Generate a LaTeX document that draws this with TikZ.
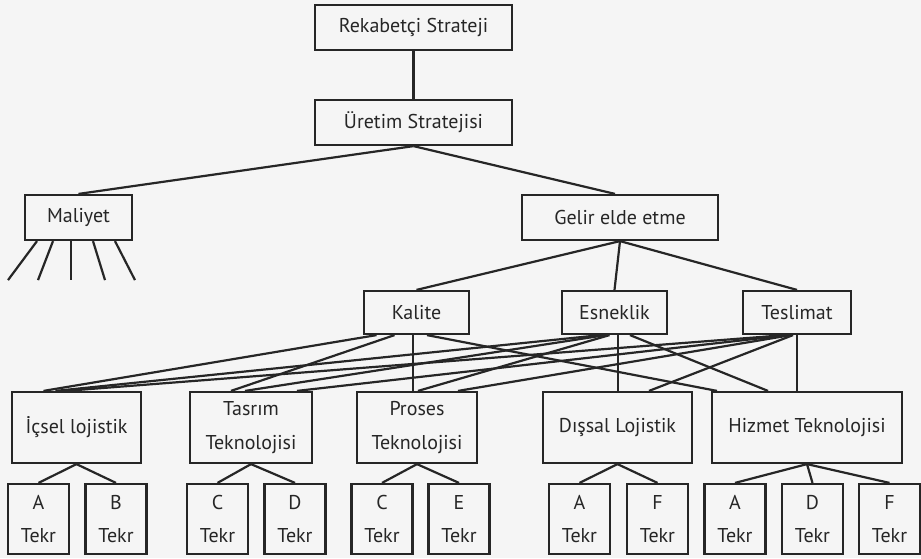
\documentclass[tikz,border=0pt]{standalone}
\usepackage{fontspec}
\setmainfont{PT Sans}
\usetikzlibrary{calc}

\begin{document}
\begin{tikzpicture}[x=1pt,y=-1pt,
    kutu/.style={draw=black!85,line width=2.2pt,inner sep=0pt,align=center,
      text=black!85,font=\fontsize{20}{33.5}\selectfont},
    ana/.style={kutu,minimum width=197,minimum height=45},
    orta/.style={kutu,minimum height=71},
    yaprak/.style={kutu,minimum width=61,minimum height=70},
    bag/.style={draw=black!85,line width=2.2pt}]
  \useasboundingbox (0,0) rectangle (921,558);
  \fill[black!4] (0,0) rectangle (921,558);
  % ust kisim
  \node[ana] (rek) at (413.5,27.5) {Rekabetçi Strateji};
  \node[ana] (ure) at (413.5,122.5) {Üretim Stratejisi};
  \node[kutu,minimum width=107,minimum height=45] (mal) at (78.5,217.5) {Maliyet};
  \node[kutu,minimum width=196,minimum height=45] (gel) at (620,217.5) {Gelir elde etme};
  \node[kutu,minimum width=105,minimum height=43] (kal) at (416.5,312.5) {Kalite};
  \node[kutu,minimum width=105,minimum height=43] (esn) at (614.5,312.5) {Esneklik};
  \node[kutu,minimum width=108,minimum height=43] (tes) at (797,312.5) {Teslimat};
  % orta sira
  \node[orta,minimum width=129] (ics) at (76.5,427.5) {İçsel lojistik};
  \node[orta,minimum width=122] (tas) at (251,427.5) {Tasrım\\Teknolojisi};
  \node[orta,minimum width=120] (pro) at (417,427.5) {Proses\\Teknolojisi};
  \node[orta,minimum width=149] (dis) at (617.5,427.5) {Dışsal Lojistik};
  \node[orta,minimum width=190] (hiz) at (807,427.5) {Hizmet Teknolojisi};
  % teknolojiler
  \foreach \n/\x/\h in {a1/38.5/A,b1/116/B,c1/217.5/C,d1/295/D,c2/382/C,e1/459/E,
      a2/579.5/A,f1/657.5/F,a3/735/A,d2/812.5/D,f2/889.5/F}{
    \node[yaprak] (\n) at (\x,519) {\h\\Tekr};
  }
  % baglantilar
  \draw[bag] (rek) -- (ure);
  \draw[bag] (ure.south) -- (mal.north);
  \draw[bag] (ure.south) -- ($(gel.north)+(-5,0)$);
  \foreach \k in {kal,esn,tes}{
    \draw[bag] (gel.south) -- (\k.north);
  }
  \foreach \a/\b in {-41.5/-29,-25.5/-15,-7.5/0,14.5/12,36.5/20}{
    \draw[bag] ($(mal.south)+(\a,0)$) -- ++(\b,39);
  }
  \foreach \u/\du/\v/\dv in {kal/-40/ics/-33,kal/-22/tas/-20,kal/-3.5/pro/-4,kal/10.5/hiz/-90,
      esn/-14/ics/-21,esn/-9/tas/-6,esn/-5/pro/1,esn/3.5/dis/0.5,esn/15.5/hiz/-39,
      tes/-12/ics/-11,tes/-9/tas/46,tes/-6/pro/41,tes/-4/dis/31.5,tes/0/hiz/-10}{
    \draw[bag] ($(\u.south)+(\du,0)$) -- ($(\v.north)+(\dv,0)$);
  }
  \foreach \p/\c in {ics/a1,ics/b1,tas/c1,tas/d1,pro/c2,pro/e1,
      dis/a2,dis/f1,hiz/a3,hiz/d2,hiz/f2}{
    \draw[bag] (\p.south) -- (\c.north);
  }
\end{tikzpicture}
\end{document}
